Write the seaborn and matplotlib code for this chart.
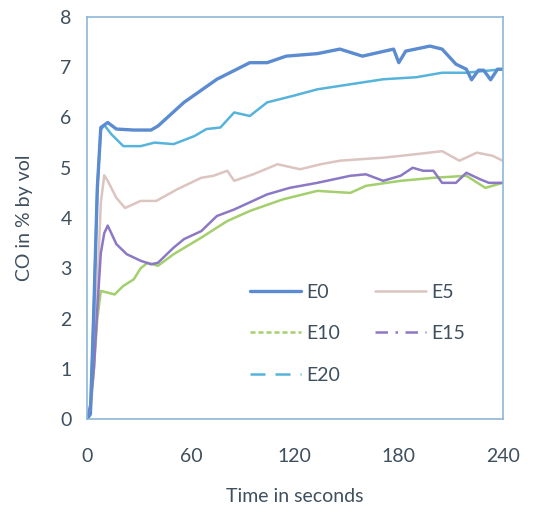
#!/usr/bin/env python3
# -*- coding: utf-8 -*-

import numpy as np
import pandas as pd
import seaborn as sns
import matplotlib.pyplot as plt
from matplotlib.lines import Line2D

# Data ########################################################################
t_e0 = [0, 2, 4, 6, 8, 12, 17, 27, 37, 41, 56, 75, 94, 104, 115, 133, 146, 159,
        177, 180, 184, 198, 205, 213, 219, 222, 226, 229, 233, 237, 240]
co_e0 = [0, 0.1, 2.2, 4.6, 5.8, 5.9, 5.77, 5.75, 5.75, 5.83, 6.3, 6.76, 7.09,
         7.09, 7.22, 7.27, 7.36, 7.22, 7.36, 7.09, 7.32, 7.42, 7.36, 7.06, 6.96,
         6.75, 6.94, 6.94, 6.75, 6.96, 6.96]

t_e5 = [0, 2, 4, 6, 8, 10, 12, 17, 22, 31, 40, 52, 66, 73, 81, 85, 96, 110,
        123, 135, 146, 158, 171, 190, 205, 215, 225, 234, 240]
co_e5 = [0, 0.1, 1.0, 2.6, 4.3, 4.85, 4.74, 4.4, 4.2, 4.34, 4.34, 4.57, 4.8,
         4.84, 4.94, 4.74, 4.87, 5.07, 4.97, 5.07, 5.14, 5.17, 5.2, 5.27, 5.33,
         5.14, 5.3, 5.24, 5.14]

t_e10 = [0, 2, 4, 6, 8, 16, 21, 27, 31, 35, 41, 50, 66, 81, 94, 113, 133, 152,
         161, 181, 200, 219, 230, 240]
co_e10 = [0, 0.2, 1.0, 2.0, 2.55, 2.48, 2.65, 2.78, 3.0, 3.11, 3.05, 3.28, 3.61,
          3.94, 4.14, 4.37, 4.54, 4.5, 4.64, 4.74, 4.8, 4.84, 4.6, 4.7]

t_e15 = [0, 2, 4, 6, 8, 10, 12, 17, 23, 31, 37, 41, 50, 56, 66, 75, 85, 104,
         117, 133, 152, 161, 171, 181, 188, 194, 200, 205, 213, 219, 227, 232, 240]
co_e15 = [0, 0.3, 1.0, 2.2, 3.3, 3.7, 3.85, 3.48, 3.28, 3.15, 3.08, 3.11, 3.41,
          3.58, 3.74, 4.04, 4.17, 4.47, 4.6, 4.7, 4.84, 4.87, 4.74, 4.84, 5.0,
          4.94, 4.94, 4.7, 4.7, 4.9, 4.77, 4.7, 4.7]

t_e20 = [0, 2, 4, 6, 8, 10, 14, 21, 31, 39, 50, 62, 69, 77, 85, 94, 104, 119,
         133, 152, 171, 190, 205, 219, 240]
co_e20 = [0, 0.1, 2.2, 4.6, 5.75, 5.85, 5.67, 5.43, 5.43, 5.5, 5.47, 5.63, 5.77,
          5.8, 6.1, 6.03, 6.3, 6.43, 6.56, 6.66, 6.76, 6.8, 6.89, 6.89, 6.96]

names = ["E0", "E5", "E10", "E15", "E20"]
times = [t_e0, t_e5, t_e10, t_e15, t_e20]
values = [co_e0, co_e5, co_e10, co_e15, co_e20]

colors = {"E0": "#5b8bd0", "E5": "#dcc4c0", "E10": "#a3cf6c",
          "E15": "#8c78c4", "E20": "#56b4dc"}
widths = {"E0": 2.4, "E5": 1.8, "E10": 1.8, "E15": 1.8, "E20": 1.8}
legend_dash = {"E0": (None, None), "E5": (None, None), "E10": (2, 1.2),
               "E15": (5, 3, 1, 3), "E20": (6, 4)}

df = pd.concat([pd.DataFrame({"t": t, "co": v, "fuel": n})
                for n, t, v in zip(names, times, values)], ignore_index=True)

# Plot #########################################################################
sns.set_style("white")
plt.rcParams["font.family"] = ["Lato", "DejaVu Sans"]
text_col = "#3e4f5e"
spine_col = "#8db6d6"

fig = plt.figure(figsize=(5.4, 5.13), dpi=100)
ax = fig.add_axes([0.161, 0.183, 0.77, 0.784])

for n in ["E5", "E10", "E15", "E20", "E0"]:
    sns.lineplot(data=df[df.fuel == n], x="t", y="co", color=colors[n],
                 linewidth=widths[n], ax=ax, legend=False)

ax.set_xlim(0, 240)
ax.set_ylim(0, 8)
ax.set_xticks([0, 60, 120, 180, 240])
ax.set_yticks(range(0, 9))
ax.tick_params(axis="both", direction="out", length=4, color=spine_col,
               labelsize=14, labelcolor=text_col)
ax.tick_params(axis="x", pad=17)
ax.tick_params(axis="y", pad=7)
for s in ax.spines.values():
    s.set_color(spine_col)
    s.set_linewidth(1.2)

ax.set_xlabel("Time in seconds", fontsize=14, color=text_col, labelpad=16)
ax.set_ylabel("CO in % by vol", fontsize=14, color=text_col, labelpad=20)

handles = []
for n in names:
    h = Line2D([], [], color=colors[n], linewidth=widths[n])
    if legend_dash[n][0] is not None:
        h.set_dashes(legend_dash[n])
    handles.append(h)
order = [0, 2, 4, 1, 3]
ax.legend([handles[i] for i in order], [names[i] for i in order], ncol=2,
          frameon=False, loc="lower left", bbox_to_anchor=(0.35, 0.045),
          handlelength=2.6, handletextpad=0.3, columnspacing=1.8,
          labelspacing=1.25, fontsize=14, labelcolor=text_col)

plt.savefig("out.png", dpi=100)
